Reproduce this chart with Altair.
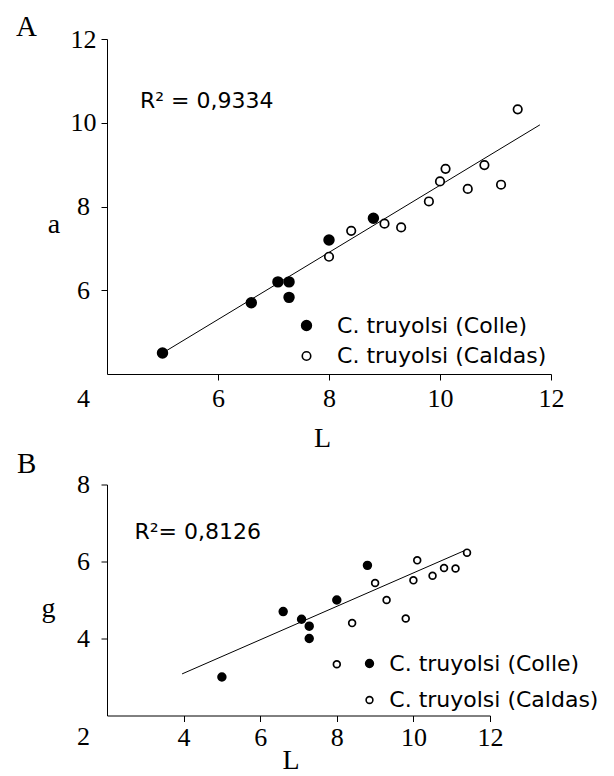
import altair as alt
import pandas as pd

# ---- data ----
groups = ["C. truyolsi (Colle)", "C. truyolsi (Caldas)"]

L_colle = [5.0, 6.6, 7.08, 7.28, 7.28, 8.0, 8.8]
a_colle = [4.5, 5.7, 6.2, 6.2, 5.83, 7.2, 7.72]
g_colle = [3.0, 4.7, 4.5, 4.32, 4.0, 5.0, 5.9]

L_caldas = [8.0, 8.4, 9.0, 9.3, 9.8, 10.0, 10.1, 10.5, 10.8, 11.1, 11.4]
a_caldas = [6.8, 7.42, 7.59, 7.5, 8.12, 8.6, 8.9, 8.42, 8.99, 8.52, 10.32]
g_caldas = [3.33, 4.4, 5.44, 5.0, 4.52, 5.51, 6.03, 5.63, 5.83, 5.82, 6.23]

fit_a_L = [5.0, 11.8]
fit_a_v = [4.5, 9.95]
fit_g_L = [3.96, 11.35]
fit_g_v = [3.08, 6.29]

r2_a = "R² = 0,9334"
r2_g = "R²= 0,8126"

ticks_a_x = [6, 8, 10, 12]
ticks_a_y = [4, 6, 8, 10, 12]
ticks_g_x = [4, 6, 8, 10, 12]
ticks_g_y = [2, 4, 6, 8]

# ---- tables ----
pts = pd.DataFrame({
    "L": L_colle + L_caldas,
    "a": a_colle + a_caldas,
    "g": g_colle + g_caldas,
    "group": [groups[0]] * len(L_colle) + [groups[1]] * len(L_caldas),
})
fit_a = pd.DataFrame({"L": fit_a_L, "a": fit_a_v})
fit_g = pd.DataFrame({"L": fit_g_L, "g": fit_g_v})

SERIF = "Liberation Serif"
SANS = "DejaVu Sans"


def panel(ycol, ytitle, xdom, ydom, xvals, yvals, corner, corner_off,
          width, height, xtitle_x, xtitle_y, ytitle_x, ytitle_y, xlabpad,
          sizes, leg_x, leg_y, leg_off, leg_rowpad, fit_df, r2, r2_x, r2_y,
          letter, letter_x, letter_y):
    xenc = alt.X("L:Q", scale=alt.Scale(domain=xdom, nice=False, zero=False),
                 axis=alt.Axis(values=xvals, title="L", titleX=xtitle_x, titleY=xtitle_y,
                               titleAlign="center", titleBaseline="alphabetic",
                               labelFlush=False, labelOverlap=False, format="d",
                               tickSize=6, labelPadding=xlabpad))
    yenc = alt.Y(f"{ycol}:Q", scale=alt.Scale(domain=ydom, nice=False, zero=False),
                 axis=alt.Axis(values=yvals, title=ytitle, titleAngle=0,
                               titleX=ytitle_x, titleY=ytitle_y, format="d",
                               titleAlign="center", titleBaseline="alphabetic",
                               labelAlign="center", labelPadding=18, tickSize=6,
                               labelOverlap=False,
                               labelOffset={"condition": {"test": f"datum.value === {corner}", "value": corner_off}, "value": 0},
                               tickColor={"condition": {"test": f"datum.value === {corner}", "value": "transparent"}, "value": "black"}))
    leg = alt.Legend(title=None, orient="none", legendX=leg_x, legendY=leg_y,
                     labelFont=SANS, labelFontSize=22, labelColor="black", labelLimit=0,
                     labelOffset=leg_off, rowPadding=leg_rowpad, padding=0,
                     symbolType="circle", symbolStrokeColor="black",
                     symbolStrokeWidth=1.6)
    points = alt.Chart(pts).mark_circle(strokeWidth=1.7, opacity=1).encode(
        x=xenc, y=yenc,
        fill=alt.Fill("group:N", scale=alt.Scale(domain=groups, range=["black", "white"]), legend=leg),
        stroke=alt.Stroke("group:N", scale=alt.Scale(domain=groups, range=["black", "black"]), legend=leg),
        size=alt.Size("group:N", scale=alt.Scale(domain=groups, range=sizes), legend=leg),
    )
    line = alt.Chart(fit_df).mark_line(color="black", strokeWidth=1).encode(
        x="L:Q", y=f"{ycol}:Q")
    r2t = alt.Chart(pd.DataFrame({"t": [r2]})).mark_text(
        align="left", baseline="alphabetic", font=SANS, fontSize=22, color="black"
    ).encode(x=alt.value(r2_x), y=alt.value(r2_y), text="t:N")
    let = alt.Chart(pd.DataFrame({"t": [letter]})).mark_text(
        align="left", baseline="alphabetic", font=SERIF, fontSize=29, color="black"
    ).encode(x=alt.value(letter_x), y=alt.value(letter_y), text="t:N")
    return alt.layer(line, points, r2t, let).properties(width=width, height=height)


chart_a = panel("a", "a", [4, 12], [4, 12], ticks_a_x, ticks_a_y, 4, 24,
                444, 335, 215, 72.5, -53.5, 193.7, 5,
                [95, 72], 188.5, 275.5, 19.6, 8.5, fit_a, r2_a, 33, 69.3,
                "A", -91, -3)
chart_b = panel("g", "g", [2, 12], [2, 8], ticks_g_x, ticks_g_y, 2, 21,
                383, 231, 183.5, 52.5, -59, 131.5, 3,
                [60, 46], 251.5, 168, 8.8, 14.5, fit_g, r2_g, 27.5, 54,
                "B", -90, -11.3)

chart = alt.vconcat(chart_a, chart_b, spacing=110.5, bounds="flush").resolve_scale(
    x="independent", y="independent", fill="independent", size="independent",
    stroke="independent"
).properties(
    padding={"left": 8, "top": 5, "right": 5, "bottom": 5}
).configure_view(stroke=None).configure_axis(
    grid=False, domainColor="black", domainWidth=1, tickColor="black", tickWidth=1,
    labelFont=SERIF, labelFontSize=26, labelColor="black",
    titleFont=SERIF, titleFontSize=28, titleFontWeight="normal", titleColor="black",
)

chart.save("out.html", embed_options={"renderer": "svg", "actions": False})
